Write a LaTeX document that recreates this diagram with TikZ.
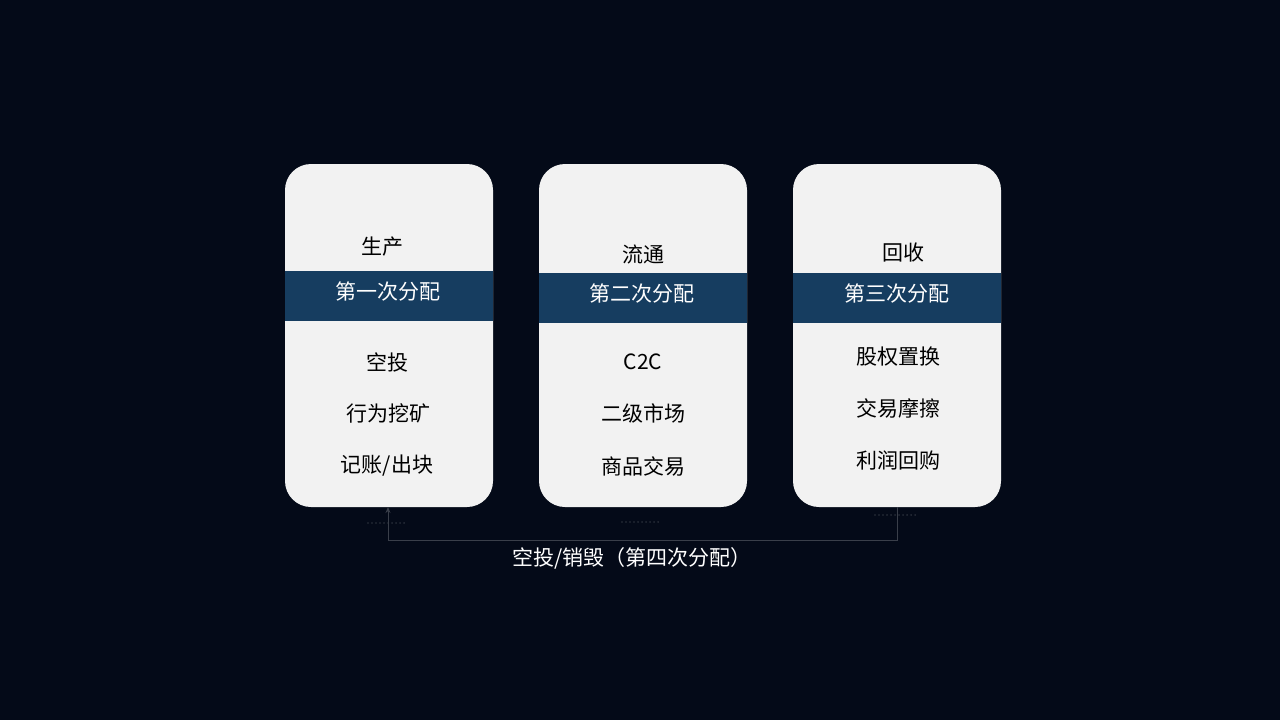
\documentclass[tikz,border=0pt]{standalone}
\usepackage{fontspec}
\setmainfont{Noto Sans CJK SC}
\usetikzlibrary{arrows.meta}
\definecolor{bgc}{HTML}{040A18}
\definecolor{cardc}{HTML}{F2F2F2}
\definecolor{bandc}{HTML}{163D60}
\definecolor{linec}{HTML}{3A3F4A}
\definecolor{dotc}{HTML}{2E333E}
\begin{document}
\begin{tikzpicture}[x=1pt,y=-1pt,
  card/.style={fill=cardc, rounded corners=26pt},
  band/.style={fill=bandc},
  itemtxt/.style={font=\fontsize{21}{24}\selectfont, text=black, inner sep=0pt},
  bandtxt/.style={font=\fontsize{21}{24}\selectfont, text=white, inner sep=0pt},
  foot/.style={font=\fontsize{21}{24}\selectfont, text=white, inner sep=0pt},
  conn/.style={draw=linec, line width=0.9pt},
  dotl/.style={draw=dotc, line width=1.6pt, line cap=round, dash pattern=on 0.01pt off 4pt}]
\fill[bgc] (0,0) rectangle (1280,720);
\useasboundingbox (0,0) rectangle (1280,720);
% cards
\path[card] (285,164) rectangle (493,507);
\path[card] (539,164) rectangle (747,507);
\path[card] (793,164) rectangle (1001,507);
% bands
\path[band] (285,271) rectangle (493,321);
\path[band] (539,273) rectangle (747,323);
\path[band] (793,273) rectangle (1001,323);
% card 1
\node[itemtxt] (p1) at (382,247) {生产};
\node[bandtxt] (b1) at (388,292) {第一次分配};
\node[itemtxt] (a1) at (387,362) {空投};
\node[itemtxt] (a2) at (388,413) {行为挖矿};
\node[itemtxt] (a3) at (387,466) {记账/出块};
% card 2
\node[itemtxt] (p2) at (643,254) {流通};
\node[bandtxt] (b2) at (642,294) {第二次分配};
\node[itemtxt] (c1) at (643,362) {C2C};
\node[itemtxt] (c2) at (643,413) {二级市场};
\node[itemtxt] (c3) at (643,466) {商品交易};
% card 3
\node[itemtxt] (p3) at (903,253) {回收};
\node[bandtxt] (b3) at (897,294) {第三次分配};
\node[itemtxt] (d1) at (898,357) {股权置换};
\node[itemtxt] (d2) at (898,408) {交易摩擦};
\node[itemtxt] (d3) at (898,460) {利润回购};
% dots
\coordinate (l1a) at (368,523); \coordinate (l1b) at (405,523);
\coordinate (l2a) at (622,522); \coordinate (l2b) at (662,522);
\coordinate (l3a) at (875,515); \coordinate (l3b) at (918,515);
\draw[dotl] (l1a) -- (l1b);
\draw[dotl] (l2a) -- (l2b);
\draw[dotl] (l3a) -- (l3b);
% connector
\coordinate (s) at (897,507);
\coordinate (t) at (388,507);
\draw[conn, -{Stealth[length=6pt,width=5pt]}] (s) -- (897,540) -- (388,540) -- (t);
\node[foot] (f) at (632,558) {空投/销毁（第四次分配）};
\end{tikzpicture}
\end{document}
